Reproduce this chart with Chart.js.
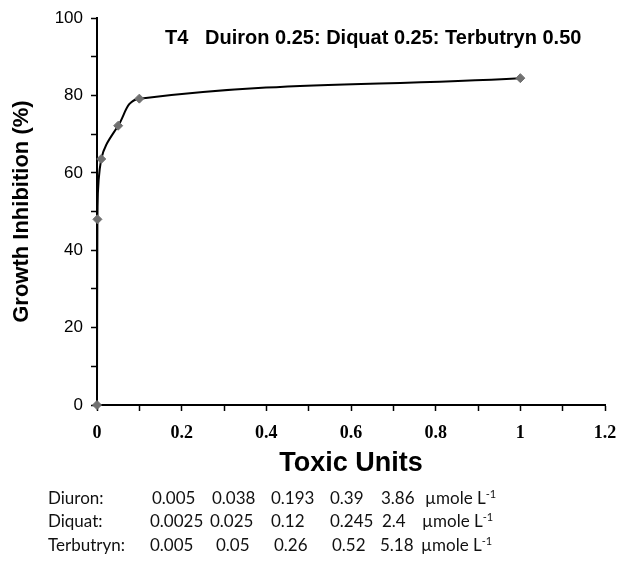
<!DOCTYPE html>
<html><head><meta charset="utf-8">
<script src="https://cdn.jsdelivr.net/npm/chart.js@4"></script>
<style>
html,body{margin:0;padding:0;background:#fff;}
#wrap{position:relative;width:634px;height:572px;overflow:hidden;}
canvas{position:absolute;left:0;top:0;}
.cell{position:absolute;font-family:Lato,"Open Sans",sans-serif;font-size:17px;color:#111;white-space:nowrap;line-height:20px;}
.cell sup{font-size:11px;vertical-align:6px;line-height:0;}
</style></head><body>
<div id="wrap"><canvas id="c" width="634" height="572"></canvas></div>
<script>
// ---- data ----
const toxicUnits = [0, 0.001, 0.01, 0.05, 0.1, 1];
const growthInhibition = [0, 48, 63.6, 72.2, 79.2, 84.5];
const xTickLabels = ['0', '0.2', '0.4', '0.6', '0.8', '1', '1.2'];
const yTickLabels = ['0', '20', '40', '60', '80', '100'];
const chartTitle = 'T4   Duiron 0.25: Diquat 0.25: Terbutryn 0.50';
const xTitle = 'Toxic Units';
const yTitle = 'Growth Inhibition (%)';
const rowNames = ['Diuron:', 'Diquat:', 'Terbutryn:'];
const diuronConc = ['0.005', '0.038', '0.193', '0.39', '3.86'];
const diquatConc = ['0.0025', '0.025', '0.12', '0.245', '2.4'];
const terbutrynConc = ['0.005', '0.05', '0.26', '0.52', '5.18'];
const concUnit = 'µmole L';
const concUnitExp = '-1';

// ---- layout of the concentration table (positions only) ----
const rowY = [488, 511, 535];
const nameX = 48;
const colX = [
  [152, 212, 271, 330, 381, 425],
  [150, 210, 271, 330, 382, 422],
  [150, 216, 274, 332, 380, 421]
];
const wrap = document.getElementById('wrap');
[diuronConc, diquatConc, terbutrynConc].forEach((vals, r) => {
  const mk = (html, x) => {
    const d = document.createElement('div');
    d.className = 'cell';
    d.style.left = x + 'px';
    d.style.top = rowY[r] + 'px';
    d.innerHTML = html;
    wrap.appendChild(d);
  };
  mk(rowNames[r], nameX);
  vals.forEach((v, i) => mk(v, colX[r][i]));
  mk(concUnit + '<sup>' + concUnitExp + '</sup>', colX[r][5]);
});

const titlePlugin = {
  id: 'insideTitle',
  afterDraw(chart) {
    const c = chart.ctx;
    c.save();
    c.font = 'bold 20px "Liberation Sans", Arial, sans-serif';
    c.fillStyle = '#000';
    c.textBaseline = 'middle';
    c.textAlign = 'left';
    c.fillText(chartTitle, 165, 38);
    c.restore();
  }
};

new Chart(document.getElementById('c'), {
  type: 'scatter',
  data: {
    datasets: [{
      data: toxicUnits.map((x, i) => ({ x: x, y: growthInhibition[i] })),
      showLine: true,
      borderColor: '#000',
      borderWidth: 2,
      tension: 0.4,
      pointStyle: 'rectRot',
      pointRadius: 4.5,
      pointBackgroundColor: '#707070',
      pointBorderColor: '#707070',
      pointBorderWidth: 1,
      clip: false
    }]
  },
  options: {
    responsive: false,
    animation: false,
    layout: { padding: { top: 17, right: 29, bottom: 95, left: 0 } },
    plugins: { legend: { display: false }, tooltip: { enabled: false } },
    scales: {
      x: {
        type: 'linear', min: 0, max: 1.2,
        afterFit(s) { s.height = 72; },
        ticks: {
          stepSize: 0.1, autoSkip: false, maxRotation: 0, padding: 12,
          color: '#000',
          font: { family: '"Liberation Serif", "Times New Roman", serif', weight: 'bold', size: 18 },
          callback(v) {
            const t = Math.round(v * 10);
            return t % 2 === 0 ? xTickLabels[t / 2] : '';
          }
        },
        grid: { drawOnChartArea: false, tickLength: 6, color: '#000', tickWidth: 1.5 },
        border: { color: '#000', width: 2 },
        title: {
          display: true, text: xTitle, color: '#000', padding: { top: 0, bottom: -3 },
          font: { family: '"Liberation Sans", Arial, sans-serif', weight: 'bold', size: 27 }
        }
      },
      y: {
        min: 0, max: 100,
        afterFit(s) { s.width = 97; },
        ticks: {
          stepSize: 10, autoSkip: false, padding: 8, color: '#000',
          font: { family: '"Liberation Sans", Arial, sans-serif', size: 17 },
          callback(v) {
            const t = Math.round(v / 10);
            return t % 2 === 0 ? yTickLabels[t / 2] : '';
          }
        },
        grid: { drawOnChartArea: false, tickLength: 6, color: '#000', tickWidth: 1.5 },
        border: { color: '#000', width: 2 },
        title: {
          display: true, text: yTitle, color: '#000', padding: { top: 9, bottom: 0 },
          font: { family: '"Liberation Sans", Arial, sans-serif', weight: 'bold', size: 22 }
        }
      }
    }
  },
  plugins: [titlePlugin]
});
</script>
</body></html>
